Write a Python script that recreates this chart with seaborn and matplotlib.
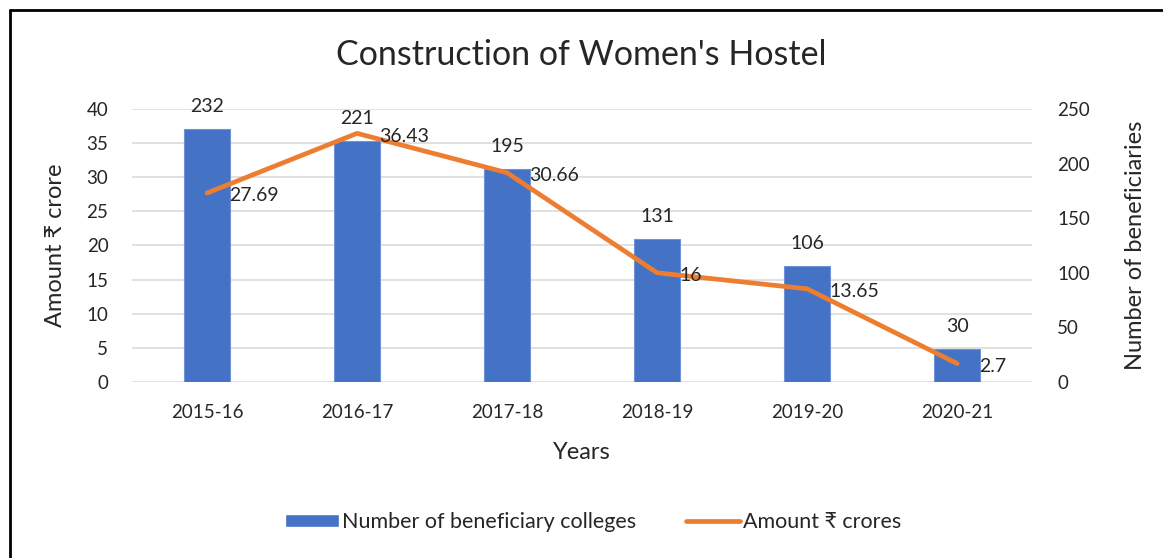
import matplotlib
matplotlib.use("Agg")
import matplotlib.pyplot as plt
import seaborn as sns
from matplotlib.patches import Patch
from matplotlib.lines import Line2D

years = ["2015-16", "2016-17", "2017-18", "2018-19", "2019-20", "2020-21"]
colleges = [232, 221, 195, 131, 106, 30]
amount = [27.69, 36.43, 30.66, 16, 13.65, 2.7]
amount_labels = ["27.69", "36.43", "30.66", "16", "13.65", "2.7"]

bar_color = "#4472C4"
line_color = "#ED7D31"
grid_color = "#D9D9D9"

sns.set_style("white")
plt.rcParams["font.family"] = ["Lato", "DejaVu Sans"]

fig = plt.figure(figsize=(11.63, 5.58), dpi=100)
ax = fig.add_axes([0.1135, 0.3154, 0.774, 0.4893])
ax2 = ax.twinx()
ax3 = ax.twinx()

# left axis: amount, grid only
ax.set_ylim(0, 40)
ax.set_yticks(range(0, 41, 5))
ax.yaxis.grid(True, color=grid_color, linewidth=1.1)
ax.xaxis.grid(False)

# bars on right axis
sns.barplot(x=years, y=colleges, ax=ax2, color=bar_color, width=0.31,
            saturation=1, edgecolor="#6F93D6", linewidth=0.8)
ax2.set_ylim(0, 250)
ax2.set_yticks(range(0, 251, 50))
ax2.bar_label(ax2.containers[0], padding=10, fontsize=14)

# line on third axis sharing left scale
sns.pointplot(x=years, y=amount, ax=ax3, color=line_color, markers="",
              linewidth=3.4)
ax3.set_ylim(0, 40)
ax3.set_yticks([])
for i, (v, t) in enumerate(zip(amount, amount_labels)):
    ax3.annotate(t, xy=(i, v), xytext=(16, -2), textcoords="offset points",
                 ha="left", va="center", fontsize=14)

for a in (ax, ax2, ax3):
    for s in a.spines.values():
        s.set_visible(False)
    a.set_xlim(-0.5, 5.5)
    a.tick_params(length=0)

ax.tick_params(axis="y", labelsize=13.5, pad=17)
ax2.tick_params(axis="y", labelsize=13.5, pad=18)
ax.tick_params(axis="x", labelsize=13.5, pad=16)
ax.set_xticks(range(len(years)))
ax.set_xticklabels(years)
ax2.set_xlabel("")
ax3.set_xlabel("")
ax3.tick_params(axis="x", labelbottom=False)
ax2.tick_params(axis="x", labelbottom=False)

ax.set_xlabel("Years", fontsize=17, labelpad=15)
ax.set_ylabel("Amount ₹ crore", fontsize=17, labelpad=15)
ax2.set_ylabel("Number of beneficiaries", fontsize=17, labelpad=25)

fig.suptitle("Construction of Women's Hostel", fontsize=24.5, y=0.901, va="center")

handles = [Patch(facecolor=bar_color, label="Number of beneficiary colleges"),
           Line2D([], [], color=line_color, linewidth=3.4, label="Amount ₹ crores")]
fig.legend(handles=handles, loc="center", bbox_to_anchor=(0.51, 0.0645), ncol=2,
           frameon=False, fontsize=15.5, handlelength=2.5, handleheight=0.6,
           columnspacing=2.3, handletextpad=0.15)

# outer frame (left and top edges)
fig.add_artist(Line2D([0.0085, 0.0085], [0, 0.982], color="black", linewidth=2,
                      transform=fig.transFigure))
fig.add_artist(Line2D([0.0085, 1], [0.982, 0.982], color="black", linewidth=2,
                      transform=fig.transFigure))

fig.savefig("out.png", dpi=100)
